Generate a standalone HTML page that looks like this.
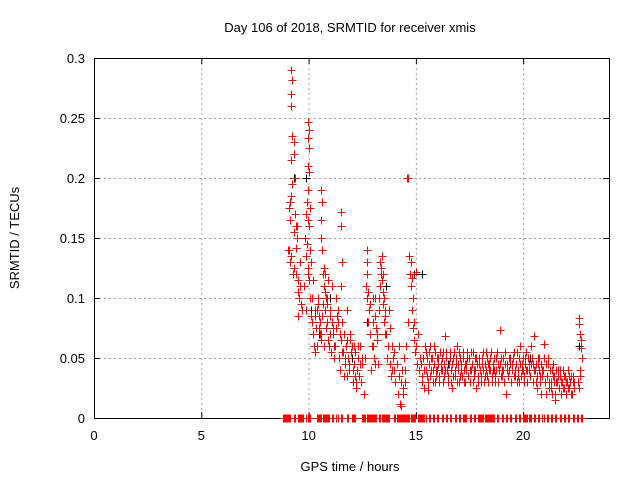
<!DOCTYPE html>
<html><head><meta charset="utf-8"><style>
html,body{margin:0;padding:0;background:#fff;}
svg text{font-family:"Liberation Sans",Arial,sans-serif;font-size:13px;fill:#000;}
</style></head><body>
<svg id="chart" width="640" height="480" xmlns="http://www.w3.org/2000/svg">
<text x="350" y="32" text-anchor="middle">Day 106 of 2018, SRMTID for receiver xmis</text>
<text transform="translate(19,238) rotate(-90)" text-anchor="middle">SRMTID / TECUs</text>
<text x="350" y="471" text-anchor="middle">GPS time / hours</text>
<g id="grid"></g>
<g id="axes"></g>
<g id="marks"></g>
</svg>
<script>
const xTicks=[0,5,10,15,20];
const yTicks=[0,0.05,0.1,0.15,0.2,0.25,0.3];
const yTickLabels=["0","0.05","0.1","0.15","0.2","0.25","0.3"];
const hours=[9.2,9.22,9.2,9.18,9.25,9.3,9.32,9.2,9.35,9.25,9.2,9.1,9.15,9.4,9.3,9.45,9.1,9.2,9.12,9.3,9.4,9.5,9.52,9.55,9.42,9.6,9.65,9.35,9.15,9.5,9.62,9.7,9.05,9.28,9.48,
9.98,10.0,9.97,10.02,9.95,10.0,9.98,9.93,10.05,9.9,9.95,10.0,9.85,9.92,10.05,9.88,10.1,9.97,10.03,9.8,10.08,9.9,10.12,9.95,
10.15,10.2,10.25,10.3,10.35,10.4,10.45,10.5,10.55,10.6,10.65,10.7,10.75,10.8,10.85,10.9,10.95,11.0,11.05,11.1,11.15,11.2,10.18,10.28,10.38,10.48,10.58,10.68,10.78,10.88,10.98,11.08,11.18,10.22,10.32,10.42,10.52,10.62,10.72,10.82,10.92,11.02,11.12,10.6,10.62,10.58,10.6,10.63,10.7,10.75,10.85,11.5,11.52,11.55,
11.25,11.3,11.35,11.4,11.45,11.5,11.55,11.6,11.65,11.7,11.75,11.8,11.85,11.9,11.95,12.0,12.05,12.1,12.15,12.2,12.25,12.3,12.35,12.4,12.45,12.5,11.28,11.38,11.48,11.58,11.68,11.78,11.88,11.98,12.08,12.18,12.28,12.38,12.48,11.33,11.63,11.93,12.23,11.5,11.8,12.1,
12.6,12.65,12.7,12.72,12.75,12.8,12.85,12.9,12.95,13.0,13.05,13.1,13.15,13.2,13.25,13.3,13.35,13.4,13.45,13.5,13.55,13.6,13.65,13.7,13.75,13.8,13.85,13.9,13.95,14.0,12.68,12.78,12.88,12.98,13.08,13.18,13.28,13.38,13.48,13.58,13.68,13.78,13.88,13.98,13.35,13.38,13.42,13.45,13.5,13.55,12.7,12.73,13.0,13.1,
14.05,14.1,14.15,14.2,14.25,14.3,14.35,14.4,14.45,14.5,14.55,14.6,14.62,14.65,14.7,14.72,14.75,14.8,14.85,14.9,14.95,15.0,15.05,15.1,15.15,15.2,14.2,14.3,14.4,14.5,14.78,14.8,14.85,14.9,15.02,
22.6,22.62,22.65,22.68,22.7,22.72,22.66,22.55,22.58,22.64];
const srmtid=[.29,.282,.27,.26,.235,.23,.22,.215,.2,.195,.185,.175,.165,.16,.155,.15,.14,.135,.13,.125,.12,.115,.105,.1,.142,.13,.095,.17,.18,.085,.11,.09,.14,.12,.16,
.247,.24,.233,.225,.21,.205,.19,.18,.175,.17,.165,.16,.15,.145,.14,.135,.13,.12,.115,.11,.1,.09,.085,.125,
.08,.07,.06,.055,.075,.09,.1,.085,.08,.07,.095,.11,.09,.075,.08,.065,.06,.07,.055,.08,.07,.05,.1,.09,.06,.075,.065,.12,.105,.095,.09,.11,.06,.115,.085,.095,.07,.085,.06,.1,.115,.085,.075,.19,.18,.165,.15,.14,.125,.12,.1,.172,.16,.13,
.06,.075,.09,.05,.04,.065,.08,.055,.07,.045,.06,.035,.05,.04,.07,.06,.03,.045,.055,.025,.04,.05,.035,.06,.03,.045,.1,.08,.07,.055,.05,.065,.045,.055,.04,.035,.06,.045,.05,.085,.035,.065,.03,.11,.09,.06,
.02,.05,.14,.13,.105,.09,.07,.04,.06,.08,.05,.1,.075,.065,.045,.09,.11,.135,.12,.1,.085,.07,.05,.06,.09,.045,.035,.06,.05,.04,.11,.08,.095,.06,.045,.07,.1,.125,.105,.09,.06,.075,.04,.055,.13,.12,.115,.095,.08,.07,.12,.1,.1,.085,
.03,.045,.02,.035,.012,.01,.04,.025,.05,.03,.06,.2,.2,.08,.135,.12,.11,.09,.075,.065,.055,.06,.045,.07,.04,.05,.06,.03,.02,.04,.13,.117,.1,.08,.122,
.083,.078,.07,.065,.058,.05,.04,.03,.025,.035];
const bandHours=[15.25,15.3,15.35,15.4,15.45,15.5,15.55,15.6,15.65,15.7,15.75,15.8,15.85,15.9,15.95,16.0,16.05,16.1,16.15,16.2,16.25,16.3,16.35,16.4,16.45,16.5,16.55,16.6,16.65,16.7,16.75,16.8,16.85,16.9,16.95,17.0,17.05,17.1,17.15,17.2,17.25,17.3,17.35,17.4,17.45,17.5,17.55,17.6,17.65,17.7,17.75,17.8,17.85,17.9,17.95,18.0,18.05,18.1,18.15,18.2,18.25,18.3,18.35,18.4,18.45,18.5,18.55,18.6,18.65,18.7,18.75,18.8,18.85,18.9,18.95,19.0,19.05,19.1,19.15,19.2,19.25,19.3,19.35,19.4,19.45,19.5,19.55,19.6,19.65,19.7,19.75,19.8,19.85,19.9,19.95,20.0,20.05,20.1,20.15,20.2,20.25,20.3,20.35,20.4,20.45,20.5,20.55,20.6,20.65,20.7,20.75,20.8,20.85,20.9,20.95,21.0,21.05,21.1,21.15,21.2,21.25,21.3,21.35,21.4,21.45,21.5,21.55,21.6,21.65,21.7,21.75,21.8,21.85,21.9,21.95,22.0,22.05,22.1,22.15,22.2,22.25,22.3,22.35,22.4,22.45,22.5];
const bandSrmtid=[.045,.03,.05,.04,.055,.035,.023,.045,.06,.04,.05,.03,.045,.055,.035,.04,.05,.03,.045,.04,.055,.035,.068,.05,.04,.03,.045,.055,.04,.025,.05,.035,.045,.06,.04,.03,.05,.045,.035,.055,.04,.03,.045,.05,.035,.04,.055,.045,.03,.04,.05,.025,.045,.035,.05,.04,.03,.045,.055,.035,.04,.05,.03,.045,.04,.055,.035,.045,.05,.03,.04,.055,.045,.073,.035,.04,.05,.03,.045,.02,.04,.035,.05,.045,.03,.04,.055,.035,.045,.03,.04,.05,.06,.035,.045,.04,.03,.05,.055,.04,.045,.035,.06,.05,.045,.068,.04,.03,.025,.045,.05,.035,.02,.04,.062,.03,.045,.035,.05,.025,.04,.03,.02,.045,.035,.015,.03,.04,.025,.035,.02,.03,.04,.025,.035,.03,.03,.025,.035,.03,.02,.035,.03];
const band2Srmtid=[.035,.05,.025,.06,.04,.05,.03,.055,.035,.05,.04,.06,.03,.04,.05,.045,.035,.055,.04,.05,.03,.045,.04,.055,.035,.045,.05,.03,.045,.035,.055,.04,.05,.03,.045,.055,.035,.04,.05,.03,.045,.04,.055,.035,.05,.03,.04,.045,.055,.035,.04,.05,.03,.045,.04,.035,.05,.04,.03,.045,.055,.035,.045,.04,.05,.03,.045,.04,.035,.05,.055,.03,.04,.045,.05,.035,.04,.03,.055,.045,.035,.04,.05,.03,.045,.05,.035,.04,.045,.055,.035,.03,.045,.04,.05,.035,.045,.04,.03,.05,.04,.035,.045,.05,.03,.04,.045,.035,.05,.04,.03,.045,.035,.04,.05,.03,.02,.035,.045,.03,.025,.04,.035,.03,.02,.04,.03,.035,.025,.04,.03,.03,.025,.035,.02,.03,.04,.025,.03,.035,.02,.03,.025];
const zeroHours=[8.8,8.9,9.0,9.1,9.3,9.5,9.6,9.7,9.9,10.0,10.4,10.5,10.6,10.7,10.8,10.9,11.1,11.3,11.5,11.8,12.0,12.1,12.5,12.6,12.7,12.8,12.9,13.0,13.1,13.3,13.4,13.5,13.6,13.7,14.0,14.1,14.2,14.3,14.4,14.5,14.6,14.7,14.8,14.9,15.1,15.2,15.3,15.4,15.6,15.8,16.0,16.2,16.4,16.6,16.8,17.0,17.2,17.3,17.5,17.7,17.9,18.0,18.1,18.2,18.3,18.4,18.5,18.6,18.8,19.0,19.2,19.4,19.6,19.8,20.0,20.1,20.2,20.3,20.5,20.7,20.9,21.1,21.3,21.5,21.7,21.9,22.1,22.3,22.5,22.7];
const blackHours=[9.3,9.9,10.1,11.0,12.7,13.6,14.9,15.3,18.6,20.3,22.6,10.5,12.0,16.5];
const blackSrmtid=[.2,.2,.09,.1,.08,.11,.12,.12,.04,.05,.06,.07,.05,.045];

const L=94,R=609,T=58,B=418,XMAX=24,YMAX=0.3;
const sx=v=>L+(R-L)*v/XMAX;
const sy=v=>B-(B-T)*v/YMAX;
const NS="http://www.w3.org/2000/svg";
const grid=document.getElementById('grid'),axes=document.getElementById('axes'),marks=document.getElementById('marks');
function mk(tag,attrs,parent){const e=document.createElementNS(NS,tag);for(const k in attrs)e.setAttribute(k,attrs[k]);parent.appendChild(e);return e;}
xTicks.forEach((t,i)=>{
  const x=sx(t)+0.5;
  if(t>0){const g=mk('line',{x1:x,x2:x,y1:T,y2:B,stroke:'#a0a0a0','stroke-dasharray':'2,3'},grid);
  
  }
  mk('line',{x1:x,x2:x,y1:B,y2:B-6,stroke:'#000'},axes);
  mk('line',{x1:x,x2:x,y1:T,y2:T+6,stroke:'#000'},axes);
  const lb=mk('text',{x:sx(t),y:B+22,'text-anchor':'middle'},axes);lb.textContent=String(t);
  
  
});
yTicks.forEach((t,i)=>{
  const y=sy(t)+0.5;
  if(t>0&&t<YMAX){const g=mk('line',{x1:L,x2:R,y1:y,y2:y,stroke:'#a0a0a0','stroke-dasharray':'2,3'},grid);
  
  }
  mk('line',{x1:L,x2:L+6,y1:y,y2:y,stroke:'#000'},axes);
  mk('line',{x1:R,x2:R-6,y1:y,y2:y,stroke:'#000'},axes);
  const lb=mk('text',{x:L-9,y:sy(t)+5,'text-anchor':'end'},axes);lb.textContent=yTickLabels[i];
  
  
});
const fr=mk('rect',{x:L+0.5,y:T+0.5,width:R-L,height:B-T,fill:'none',stroke:'#000'},axes);


let dRed='',dBlack='';
function plus(t,v){const x=Math.round(sx(t))+0.5,y=Math.round(sy(v))+0.5;return `M${x-4},${y}h8M${x},${y-4}v8`;}
for(let i=0;i<Math.min(hours.length,srmtid.length);i++)dRed+=plus(hours[i],srmtid[i]);
for(let i=0;i<Math.min(bandHours.length,bandSrmtid.length);i++)dRed+=plus(bandHours[i],bandSrmtid[i]);
for(let i=0;i<Math.min(bandHours.length,band2Srmtid.length);i++)dRed+=plus(bandHours[i]+0.025,band2Srmtid[i]);
zeroHours.forEach(t=>{dRed+=plus(t,0);dRed+=plus(t+0.05,0);});
for(let i=0;i<Math.min(blackHours.length,blackSrmtid.length);i++)dBlack+=plus(blackHours[i],blackSrmtid[i]);
const pb=mk('path',{d:dBlack,stroke:'#000','stroke-width':1,fill:'none'},marks);


const pr=mk('path',{d:dRed,stroke:'#ff0000','stroke-width':1,fill:'none'},marks);


</script>
</body></html>
